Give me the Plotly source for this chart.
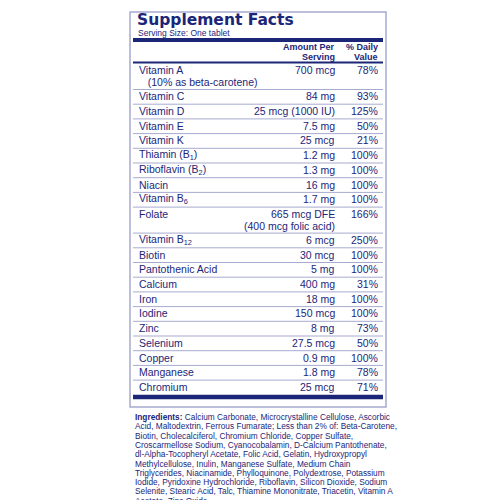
import plotly.graph_objects as go

NAVY = "#1c2678"
RULE = "#a7abcf"

nutrients = ["Vitamin A<br>  (10% as beta-carotene)", "Vitamin C", "Vitamin D", "Vitamin E", "Vitamin K",
             "Thiamin (B<sub>1</sub>)", "Riboflavin (B<sub>2</sub>)", "Niacin", "Vitamin B<sub>6</sub>", "Folate",
             "Vitamin B<sub>12</sub>", "Biotin", "Pantothenic Acid", "Calcium", "Iron", "Iodine", "Zinc",
             "Selenium", "Copper", "Manganese", "Chromium"]
amounts = ["700 mcg", "84 mg", "25 mcg (1000 IU)", "7.5 mg", "25 mcg", "1.2 mg", "1.3 mg", "16 mg", "1.7 mg",
           "665 mcg DFE<br>(400 mcg folic acid)", "6 mcg", "30 mcg", "5 mg", "400 mg", "18 mg", "150 mcg",
           "8 mg", "27.5 mcg", "0.9 mg", "1.8 mg", "25 mcg"]
daily_values = ["78%", "93%", "125%", "50%", "21%", "100%", "100%", "100%", "100%", "166%", "250%", "100%",
                "100%", "31%", "100%", "100%", "73%", "50%", "100%", "78%", "71%"]
ingredient_lines = [
    "<b>Ingredients:</b> Calcium Carbonate, Microcrystalline Cellulose, Ascorbic",
    "Acid, Maltodextrin, Ferrous Fumarate; Less than 2% of: Beta-Carotene,",
    "Biotin, Cholecalciferol, Chromium Chloride, Copper Sulfate,",
    "Croscarmellose Sodium, Cyanocobalamin, D-Calcium Pantothenate,",
    "dl-Alpha-Tocopheryl Acetate, Folic Acid, Gelatin, Hydroxypropyl",
    "Methylcellulose, Inulin, Manganese Sulfate, Medium Chain",
    "Triglycerides, Niacinamide, Phylloquinone, Polydextrose, Potassium",
    "Iodide, Pyridoxine Hydrochloride, Riboflavin, Silicon Dioxide, Sodium",
    "Selenite, Stearic Acid, Talc, Thiamine Mononitrate, Triacetin, Vitamin A",
    "Acetate, Zinc Oxide.",
]

L, R = 125, 375
SANS = "Liberation Sans"
shapes, ann = [], []

def text(x, y, s, anchor="left", size=10.5, fam=SANS):
    ann.append(dict(x=x, y=y, text=s, showarrow=False, xanchor=anchor, yanchor="middle",
                    font=dict(family=fam, size=size, color=NAVY)))

def hline(y, w, color):
    shapes.append(dict(type="line", x0=L, x1=R, y0=y, y1=y, line=dict(color=color, width=w)))

# box border
shapes.append(dict(type="rect", x0=L - 3, x1=R + 3, y0=4, y1=399, line=dict(color=RULE, width=1.5)))
text(L + 2, 12, "<b>Supplement Facts</b>", size=15.5, fam="DejaVu Sans")
text(L + 3, 24.5, "Serving Size: One tablet", size=8.5)
shapes.append(dict(type="rect", x0=L, x1=R, y0=30, y1=34, fillcolor=NAVY, line_width=0))
text(329, 39, "<b>Amount Per</b>", anchor="right", size=9)
text(329, 49, "<b>Serving</b>", anchor="right", size=9)
text(372, 39, "<b>% Daily</b>", anchor="right", size=9)
text(372, 49, "<b>Value</b>", anchor="right", size=9)
hline(54.5, 2, NAVY)

y = 55.5
for name, amt, dv in zip(nutrients, amounts, daily_values):
    two = "<br>" in name or "<br>" in amt
    h = 26 if two else 14.7
    top = y + 6.8
    if two:
        if "<br>" in name:
            first, _, second = name.partition("<br>")
            text(L + 4, top, first)
            text(L + 4, top + 12, second.replace("  ", "&nbsp;&nbsp;&nbsp;"))
            text(329, top, amt, anchor="right")
        else:
            first, _, second = amt.partition("<br>")
            text(L + 4, top, name)
            text(329, top, first, anchor="right")
            text(329, top + 12, second, anchor="right")
    else:
        text(L + 4, top, name)
        text(329, top, amt, anchor="right")
    text(372, top, dv, anchor="right")
    y += h
    if name != nutrients[-1]:
        hline(y, 1, RULE)
shapes.append(dict(type="rect", x0=L, x1=R, y0=y, y1=y + 4.5, fillcolor=NAVY, line_width=0))

for i, line in enumerate(ingredient_lines):
    text(L, 409 + i * 9.3, line, size=8.3)

fig = go.Figure()
fig.update_layout(
    width=500, height=500, margin=dict(l=0, r=0, t=0, b=0),
    paper_bgcolor="white", plot_bgcolor="white",
    xaxis=dict(range=[0, 500], visible=False, fixedrange=True),
    yaxis=dict(range=[500, 0], visible=False, fixedrange=True),
    shapes=shapes, annotations=ann, showlegend=False,
)
fig.write_html("out.html")
